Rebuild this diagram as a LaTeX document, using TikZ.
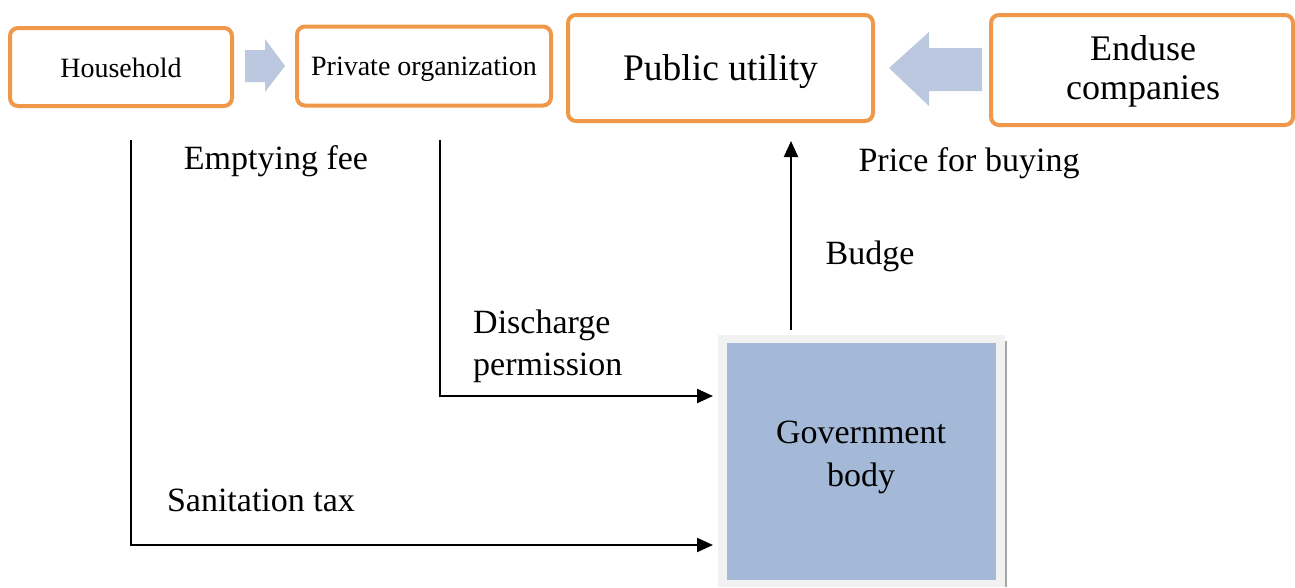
\documentclass[tikz,border=0pt]{standalone}
\usepackage{fontspec}
\setmainfont{Liberation Serif}
\usetikzlibrary{arrows.meta}
\definecolor{boxorange}{HTML}{F0984A}
\definecolor{arrowblue}{HTML}{BCC8E0}
\definecolor{govblue}{HTML}{A4B9D7}
\definecolor{govframe}{HTML}{F2F2F2}
\tikzset{
  obox/.style={draw=boxorange, line width=4pt, rounded corners=8pt, fill=white, inner sep=0pt},
  btext/.style={inner sep=0pt},
  lbl/.style={font=\fontsize{34}{42}\selectfont, inner sep=0pt},
  conn/.style={line width=2.2pt, -{Triangle[length=16pt,width=14pt]}},
  blockarrow/.style={fill=arrowblue, draw=none}
}
\begin{document}
\begin{tikzpicture}[x=1pt,y=-1pt]
\useasboundingbox (0,0) rectangle (1295,587);
\fill[white] (0,0) rectangle (1295,587);
% top boxes
\node[obox, minimum width=222pt, minimum height=78pt] (hh) at (121,67) {};
\node[btext, font=\fontsize{28}{34}\selectfont] (hhtext) at (121,68) {Household};
\node[obox, minimum width=254pt, minimum height=79pt] (po) at (424,66) {};
\node[btext, font=\fontsize{28}{34}\selectfont] (potext) at (424,69.5) {Private organization};
\node[obox, minimum width=305pt, minimum height=106pt] (pu) at (720.5,68) {};
\node[btext, font=\fontsize{37.5}{44}\selectfont] (putext) at (720.5,72) {Public utility};
\node[obox, minimum width=302pt, minimum height=110pt] (ec) at (1142,70) {};
\node[btext, align=center, font=\fontsize{36}{39}\selectfont] (ectext) at (1143,71) {Enduse\\companies};
% block arrows
\fill[blockarrow] (245,50) -- (265,50) -- (265,39) -- (285,66) -- (265,92) -- (265,82) -- (245,82) -- cycle;
\fill[blockarrow] (982,48) -- (929,48) -- (929,32) -- (889,68) -- (929,106) -- (929,91) -- (982,91) -- cycle;
% government body
\fill[govframe] (718,335) rectangle (1005,587);
\draw[gray!70, line width=1.5pt] (1006,341) -- (1006,587);
\node[fill=govblue, minimum width=269pt, minimum height=237pt, inner sep=0pt] (gov) at (861.5,461.5) {};
\node[lbl, align=center, font=\fontsize{34}{43}\selectfont] (govtext) at (861,457) {Government\\body};
% connector coordinates
\coordinate (hhstart) at (131,140);
\coordinate (hhcorner) at (131,545);
\coordinate (postart) at (440,140);
\coordinate (pocorner) at (440,396);
\coordinate (govin1) at (713,545);
\coordinate (govin2) at (713,396);
\coordinate (govtop) at (791,330);
\coordinate (putarget) at (791,141);
\draw[conn] (hhstart) -- (hhcorner) -- (govin1);
\draw[conn] (postart) -- (pocorner) -- (govin2);
\draw[conn] (govtop) -- (putarget);
% labels
\node[lbl] (fee) at (276,161) {Emptying fee};
\node[lbl] (price) at (969,163) {Price for buying};
\node[lbl] (budge) at (870,256) {Budge};
\node[lbl, align=left, anchor=west] (dis) at (473,346) {Discharge\\permission};
\node[lbl] (tax) at (261,500) {Sanitation tax};
\end{tikzpicture}
\end{document}
